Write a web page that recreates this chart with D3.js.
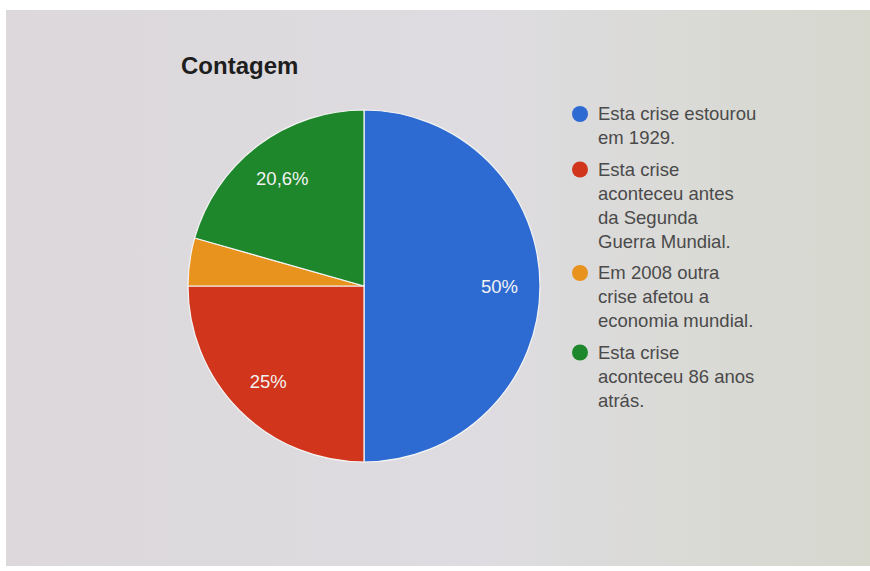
<!DOCTYPE html>
<html>
<head>
<meta charset="utf-8">
<script src="https://cdn.jsdelivr.net/npm/d3@7"></script>
<style>
  html, body { margin: 0; padding: 0; background: #ffffff; }
  svg { display: block; }
</style>
</head>
<body>
<svg id="chart" width="870" height="571"></svg>
<script>
// Answer counts (percentages) for the question
const categories = [
  "Esta crise estourou em 1929.",
  "Esta crise aconteceu antes da Segunda Guerra Mundial.",
  "Em 2008 outra crise afetou a economia mundial.",
  "Esta crise aconteceu 86 anos atrás."
];
const values = [50, 25, 4.4, 20.6];
const sliceLabels = ["50%", "25%", "", "20,6%"];
const legendLines = [
  ["Esta crise estourou", "em 1929."],
  ["Esta crise", "aconteceu antes", "da Segunda", "Guerra Mundial."],
  ["Em 2008 outra", "crise afetou a", "economia mundial."],
  ["Esta crise", "aconteceu 86 anos", "atrás."]
];
const colors = ["#2d6bd3", "#d1361d", "#e9931f", "#1e862b"];
const title = "Contagem";

const svg = d3.select("#chart");
const W = 870, H = 571;

// Screen backdrop
const defs = svg.append("defs");
const grad = defs.append("linearGradient").attr("id", "bg")
  .attr("x1", "0%").attr("y1", "0%").attr("x2", "100%").attr("y2", "0%");
grad.append("stop").attr("offset", "0%").attr("stop-color", "#dcd8dc");
grad.append("stop").attr("offset", "55%").attr("stop-color", "#dedce0");
grad.append("stop").attr("offset", "100%").attr("stop-color", "#d6d8ce");
svg.append("rect").attr("x", 6).attr("y", 10).attr("width", W - 6).attr("height", 556)
  .attr("fill", "url(#bg)");

// Title
svg.append("text")
  .attr("x", 181).attr("y", 74)
  .attr("font-family", "Arial, 'Liberation Sans', sans-serif")
  .attr("font-size", 24).attr("font-weight", "bold")
  .attr("fill", "#1e1e1e")
  .text(title);

// Pie
const cx = 364, cy = 286, R = 176;
const pie = d3.pie().sort(null).value(d => d)(values);
const arc = d3.arc().innerRadius(0).outerRadius(R);
const labelArc = d3.arc().innerRadius(R * 0.77).outerRadius(R * 0.77);

const g = svg.append("g").attr("transform", `translate(${cx},${cy})`);
g.selectAll("path.slice").data(pie).enter().append("path")
  .attr("class", "slice")
  .attr("d", arc)
  .attr("fill", (d, i) => colors[i])
  .attr("stroke", "#f4f4f4").attr("stroke-width", 1.2);

g.selectAll("text.pct").data(pie).enter().append("text")
  .attr("class", "pct")
  .attr("transform", d => {
    const [x, y] = labelArc.centroid(d);
    return `translate(${x},${y})`;
  })
  .attr("text-anchor", "middle").attr("dy", "0.36em")
  .attr("font-family", "Arial, 'Liberation Sans', sans-serif")
  .attr("font-size", 18.5)
  .attr("fill", "#f2f2f2")
  .text((d, i) => sliceLabels[i]);

// Legend
const legend = svg.append("g").attr("transform", "translate(580,114)");
const lineH = 24, itemGap = 7.5;
let yOff = 0;
legendLines.forEach((lines, i) => {
  const item = legend.append("g").attr("transform", `translate(0,${yOff})`);
  item.append("circle").attr("cx", 0).attr("cy", 0).attr("r", 8).attr("fill", colors[i]);
  const t = item.append("text")
    .attr("font-family", "Arial, 'Liberation Sans', sans-serif")
    .attr("font-size", 18.5).attr("fill", "#4a4a4a");
  lines.forEach((ln, j) => {
    t.append("tspan").attr("x", 18).attr("y", j * lineH).attr("dy", "0.35em").text(ln);
  });
  yOff += lines.length * lineH + itemGap;
});
</script>
</body>
</html>
